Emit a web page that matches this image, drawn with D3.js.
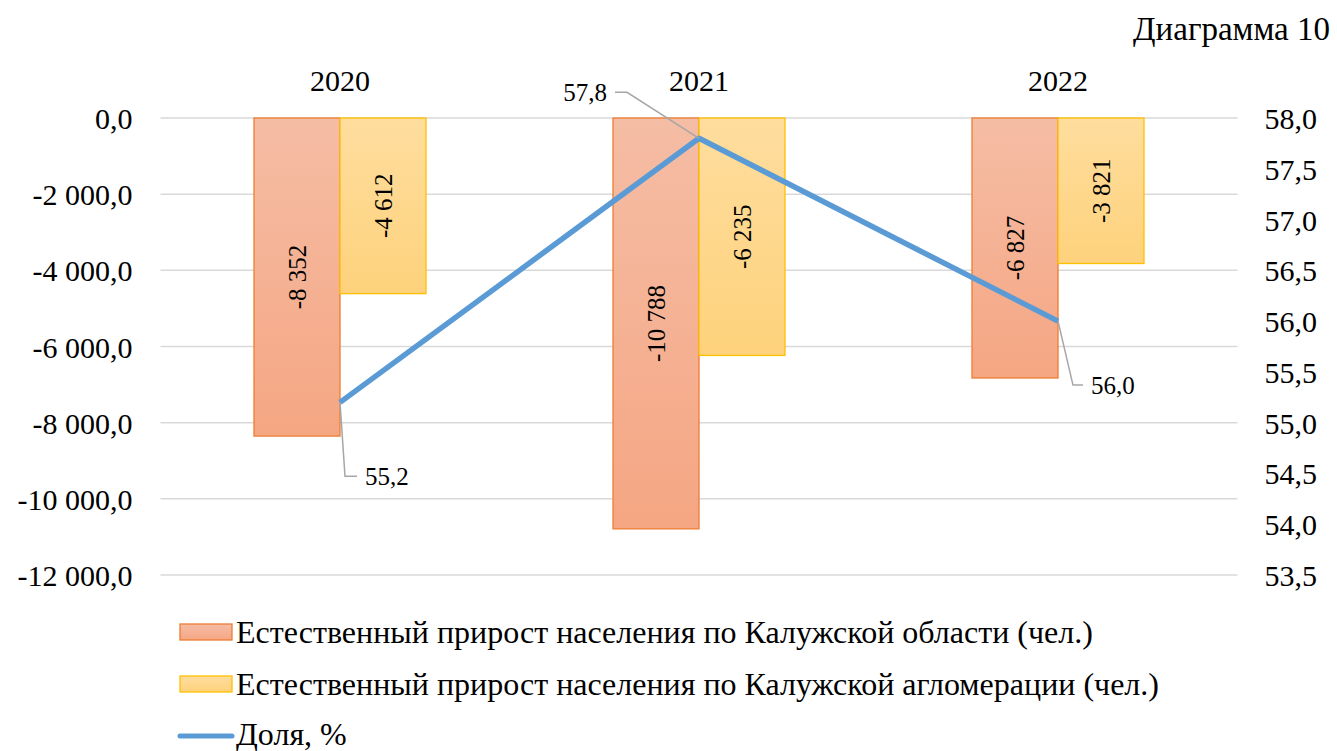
<!DOCTYPE html>
<html>
<head>
<meta charset="utf-8">
<script src="https://cdn.jsdelivr.net/npm/d3@7"></script>
<style>
  body { margin:0; background:#fff; }
  svg text { font-family:"Liberation Serif", "Times New Roman", serif; fill:#000; }
</style>
</head>
<body>
<svg id="chart" width="1337" height="751"></svg>
<script>
// data
var years = ['2020', '2021', '2022']
var regionGrowth = [-8352, -10788, -6827]
var agglomGrowth = [-4612, -6235, -3821]
var share = [55.2, 57.8, 56.0]
var leftTicks = [0, -2000, -4000, -6000, -8000, -10000, -12000]
var rightTicks = [58.0, 57.5, 57.0, 56.5, 56.0, 55.5, 55.0, 54.5, 54.0, 53.5]
var seriesNames = [
    'Естественный прирост населения по Калужской области (чел.)',
    'Естественный прирост населения по Калужской агломерации (чел.)',
    'Доля, %'
]

// leader offsets for line labels: [elbowDx, elbowDy, endDx]
var leaderOffsets = [[5, 74, 17], [-72, -46, -84], [15, 64, 25]]

var svg = d3.select('#chart')
var plotTop = 118, plotBottom = 575, plotLeft = 160.5, plotRight = 1237.5
var barW = 86

var x = d3.scaleBand().domain(years).range([plotLeft, plotRight])
var yL = d3.scaleLinear().domain([-12000, 0]).range([plotBottom, plotTop])
var yR = d3.scaleLinear().domain([53.5, 58]).range([plotBottom, plotTop])

var fmtInt = v=> d3.format(',')(v).replace(/,/g, ' ').replace('−', '-')
var fmtLeft = v=> d3.format(',.1f')(v).replace(/,/g, ' ').replace('.', ',').replace('−', '-')
var fmtRight = v=> d3.format('.1f')(v).replace('.', ',')

var defs = svg.append('defs')
function grad(id, c1, c2) {
    var g = defs.append('linearGradient').attr('id', id)
        .attr('x1', 0).attr('y1', 0).attr('x2', 0).attr('y2', 1)
    g.append('stop').attr('offset', '0%').attr('stop-color', c1)
    g.append('stop').attr('offset', '100%').attr('stop-color', c2)
}
grad('gOrange', '#F5BDA5', '#F5A683')
grad('gYellow', '#FEDD9E', '#FED27C')

// title
svg.append('text').attr('x', 1330).attr('y', 40)
    .attr('text-anchor', 'end').style('font-size', '33px').text('Диаграмма 10')

// grid
svg.append('g').selectAll('line').data(leftTicks).join('line')
    .attr('x1', plotLeft).attr('x2', plotRight)
    .attr('y1', d=> yL(d)).attr('y2', d=> yL(d))
    .attr('stroke', '#D9D9D9').attr('stroke-width', 1.5)

// left axis
var axL = svg.append('g').attr('transform', 'translate(' + plotLeft + ',0)')
    .call(d3.axisLeft(yL).tickValues(leftTicks).tickFormat(fmtLeft).tickSize(0).tickPadding(28))
axL.select('.domain').remove()
axL.selectAll('text').style('font-size', '30px').attr('dy', '0.35em')
axL.attr('font-family', null)

// right axis
var axR = svg.append('g').attr('transform', 'translate(' + plotRight + ',0)')
    .call(d3.axisRight(yR).tickValues(rightTicks).tickFormat(fmtRight).tickSize(0).tickPadding(27))
axR.select('.domain').remove()
axR.selectAll('text').style('font-size', '30px').attr('dy', '0.35em')
axR.attr('font-family', null)

// category labels on top
svg.append('g').selectAll('text').data(years).join('text')
    .attr('x', d=> x(d) + x.bandwidth() / 2).attr('y', 91)
    .attr('text-anchor', 'middle').style('font-size', '30px').text(d=> d)

// bars
var cx = d=> x(d) + x.bandwidth() / 2
var series = [
    { vals:regionGrowth, fill:'url(#gOrange)', stroke:'#ED7D31', off:-barW },
    { vals:agglomGrowth, fill:'url(#gYellow)', stroke:'#FFC000', off:0 }
]
series.forEach(s=> {
    var g = svg.append('g')
    g.selectAll('rect').data(years).join('rect')
        .attr('x', (d, i)=> cx(d) + s.off)
        .attr('y', yL(0))
        .attr('width', barW)
        .attr('height', (d, i)=> yL(s.vals[i]) - yL(0))
        .attr('fill', s.fill).attr('stroke', s.stroke).attr('stroke-width', 1.3)
    g.selectAll('text').data(years).join('text')
        .attr('transform', (d, i)=> 'translate(' + (cx(d) + s.off + barW / 2) + ',' + ((yL(0) + yL(s.vals[i])) / 2) + ') rotate(-90)')
        .attr('text-anchor', 'middle').attr('dy', '0.35em')
        .style('font-size', '25px')
        .text((d, i)=> fmtInt(s.vals[i]))
})

// line
var line = d3.line().x((d, i)=> cx(years[i])).y(d=> yR(d))
svg.append('path').datum(share).attr('d', line)
    .attr('fill', 'none').attr('stroke', '#5B9BD5').attr('stroke-width', 5.5)
    .attr('stroke-linejoin', 'round')

// leader lines + labels
var lg = svg.append('g')
share.forEach((v, i)=> {
    var px = cx(years[i]), py = yR(v), o = leaderOffsets[i]
    var ex = px + o[0], ey = py + o[1], tx = px + o[2]
    lg.append('path').attr('d', 'M' + px + ',' + py + 'L' + ex + ',' + ey + 'L' + tx + ',' + ey)
        .attr('fill', 'none').attr('stroke', '#A6A6A6').attr('stroke-width', 1.5)
    var toRight = o[2] > o[0]
    lg.append('text').attr('x', toRight ? tx + 8 : tx - 8).attr('y', ey)
        .attr('dy', '0.35em').attr('text-anchor', toRight ? 'start' : 'end')
        .style('font-size', '25px').text(fmtRight(v))
})

// legend
var leg = svg.append('g')
var legY = [632, 684, 734]
leg.append('rect').attr('x', 180).attr('y', legY[0] - 8).attr('width', 52).attr('height', 16)
    .attr('fill', 'url(#gOrange)').attr('stroke', '#ED7D31').attr('stroke-width', 1.3)
leg.append('rect').attr('x', 180).attr('y', legY[1] - 8).attr('width', 52).attr('height', 16)
    .attr('fill', 'url(#gYellow)').attr('stroke', '#FFC000').attr('stroke-width', 1.3)
leg.append('line').attr('x1', 180).attr('x2', 232).attr('y1', legY[2] + 2).attr('y2', legY[2] + 2)
    .attr('stroke', '#5B9BD5').attr('stroke-width', 5).attr('stroke-linecap', 'round')
leg.selectAll('text').data(seriesNames).join('text')
    .attr('x', 236).attr('y', (d, i)=> legY[i]).attr('dy', '0.35em')
    .style('font-size', '32px').text(d=> d)
</script>
</body>
</html>
